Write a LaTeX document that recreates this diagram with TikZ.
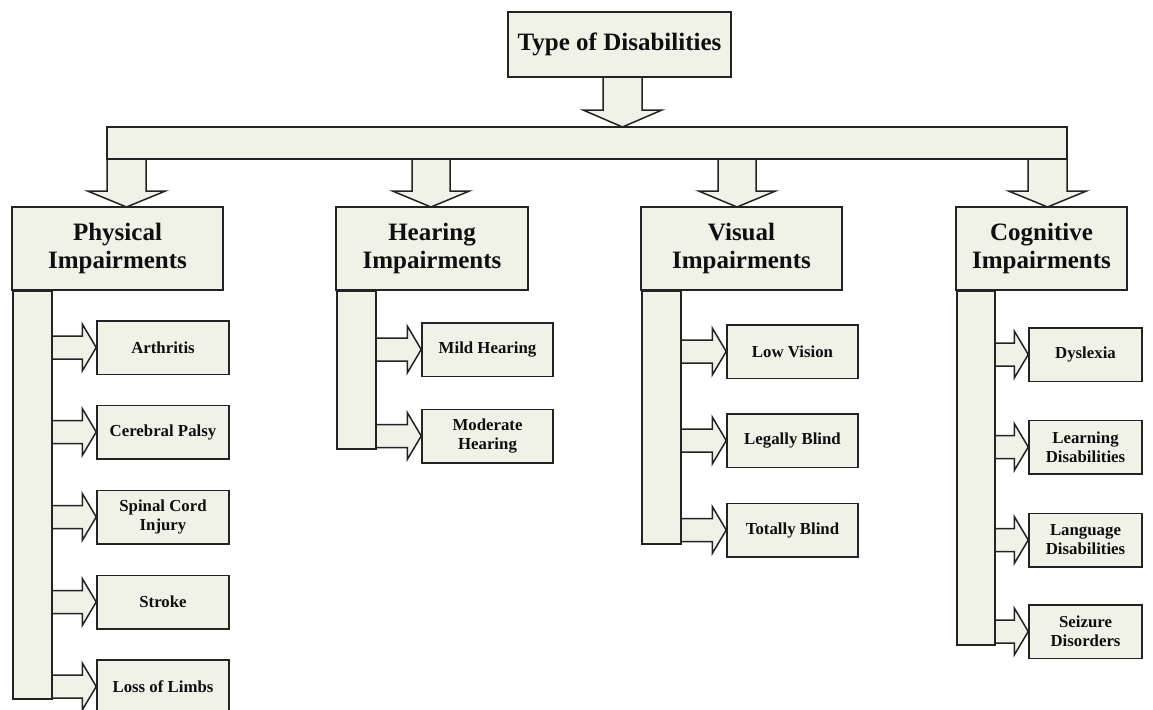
\documentclass[tikz,border=0pt]{standalone}
\usepackage{fontspec}
\setmainfont{Liberation Serif}
\definecolor{boxfill}{RGB}{240,242,232}
\definecolor{edge}{RGB}{35,35,35}
\definecolor{txt}{RGB}{15,15,15}
\newcommand\blkdown[6]{% xl, xr, ytop, ybase, ytip, wing
  \fill[boxfill] (#1,#3) -- (#1,#4) -- ({#1-#6},#4) -- ({(#1+#2)/2},#5) -- ({#2+#6},#4) -- (#2,#4) -- (#2,#3) -- cycle;
  \draw[ln] (#1,#3) -- (#1,#4) -- ({#1-#6},#4) -- ({(#1+#2)/2},#5) -- ({#2+#6},#4) -- (#2,#4) -- (#2,#3);}
\newcommand\blkright[2]{% spine node, target node
  \fill[boxfill] let \p1=(#1.east), \p2=(#2.west) in
    (\x1,\y2+11.5pt) -- (\x2-14pt,\y2+11.5pt) -- (\x2-14pt,\y2+23.5pt) -- (\x2,\y2) --
    (\x2-14pt,\y2-23.5pt) -- (\x2-14pt,\y2-11.5pt) -- (\x1,\y2-11.5pt) -- cycle;
  \draw[ln] let \p1=(#1.east), \p2=(#2.west) in
    (\x1,\y2+11.5pt) -- (\x2-14pt,\y2+11.5pt) -- (\x2-14pt,\y2+23.5pt) -- (\x2,\y2) --
    (\x2-14pt,\y2-23.5pt) -- (\x2-14pt,\y2-11.5pt) -- (\x1,\y2-11.5pt);}
\usetikzlibrary{calc}
\begin{document}
\begin{tikzpicture}[x=1pt,y=-1pt,
  ln/.style={draw=edge, line width=1.5pt, line join=miter},
  shapebox/.style={ln, fill=boxfill, inner sep=0pt, rectangle},
  head/.style={shapebox, align=center, text=txt, font=\fontsize{25}{27.5}\selectfont\bfseries},
  sub/.style={shapebox, align=center, text=txt, minimum height=53.5pt, font=\fontsize{16.8}{19}\selectfont\bfseries},
  spine/.style={shapebox, anchor=north west, minimum width=39pt}]
\useasboundingbox (0,0) rectangle (1153,709);
\fill[white] (0,0) rectangle (1153,709);

% arrows from top box and bar
\blkdown{603}{642}{77}{110}{127}{20}
\blkdown{107}{146}{159}{191}{207}{19.5}
\blkdown{412}{450}{159}{191}{207}{19.5}
\blkdown{718}{756}{159}{191}{207}{19.5}
\blkdown{1028}{1067}{159}{191}{207}{19.5}

% top box and bar
\node[head, minimum width=223pt, minimum height=65pt] (top) at (619.5,44.5) {Type of Disabilities};
\node[shapebox, minimum width=960pt, minimum height=32pt] (bar) at (587,143) {};

% sub-item boxes
\node[sub, minimum width=132pt] (arth) at (163,347.5) {Arthritis};
\node[sub, minimum width=132pt] (cere) at (163,432) {Cerebral Palsy};
\node[sub, minimum width=132pt] (spin) at (163,517) {Spinal Cord\\Injury};
\node[sub, minimum width=132pt] (strk) at (163,602) {Stroke};
\node[sub, minimum width=132pt] (loss) at (163,686.5) {Loss of Limbs};

\node[sub, minimum width=131pt] (mild) at (487.5,349.5) {Mild Hearing};
\node[sub, minimum width=131pt] (mode) at (487.5,436) {Moderate\\Hearing};

\node[sub, minimum width=131pt] (lowv) at (792.5,351.5) {Low Vision};
\node[sub, minimum width=131pt] (legb) at (792.5,440.5) {Legally Blind};
\node[sub, minimum width=131pt] (totb) at (792.5,530) {Totally Blind};

\node[sub, minimum width=113pt] (dysl) at (1085.5,354.5) {Dyslexia};
\node[sub, minimum width=113pt] (lear) at (1085.5,447) {Learning\\Disabilities};
\node[sub, minimum width=113pt] (lang) at (1085.5,540) {Language\\Disabilities};
\node[sub, minimum width=113pt] (seiz) at (1085.5,631.5) {Seizure\\Disorders};

% spines (drawn below, after the side arrows)
\node[spine, minimum height=408pt, draw=none, fill=none] (pspine) at (12,290) {};
\node[spine, minimum height=158pt, draw=none, fill=none] (hspine) at (336,290) {};
\node[spine, minimum height=253pt, draw=none, fill=none] (vspine) at (641,290) {};
\node[spine, minimum width=38pt, minimum height=354pt, draw=none, fill=none] (cspine) at (956,290) {};

% side arrows
\blkright{pspine}{arth}
\blkright{pspine}{cere}
\blkright{pspine}{spin}
\blkright{pspine}{strk}
\blkright{pspine}{loss}
\blkright{hspine}{mild}
\blkright{hspine}{mode}
\blkright{vspine}{lowv}
\blkright{vspine}{legb}
\blkright{vspine}{totb}
\blkright{cspine}{dysl}
\blkright{cspine}{lear}
\blkright{cspine}{lang}
\blkright{cspine}{seiz}

% visible spines
\node[spine, minimum height=408pt] at (12,290) {};
\node[spine, minimum height=158pt] at (336,290) {};
\node[spine, minimum height=253pt] at (641,290) {};
\node[spine, minimum width=38pt, minimum height=354pt] at (956,290) {};

% heading boxes
\node[head, minimum width=211pt, minimum height=83pt] (phys) at (117.5,248.5) {Physical\\Impairments};
\node[head, minimum width=192pt, minimum height=83pt] (hear) at (432,248.5) {Hearing\\Impairments};
\node[head, minimum width=201pt, minimum height=83pt] (visu) at (741.5,248.5) {Visual\\Impairments};
\node[head, minimum width=171pt, minimum height=83pt] (cogn) at (1041.5,248.5) {Cognitive\\Impairments};
\end{tikzpicture}
\end{document}
